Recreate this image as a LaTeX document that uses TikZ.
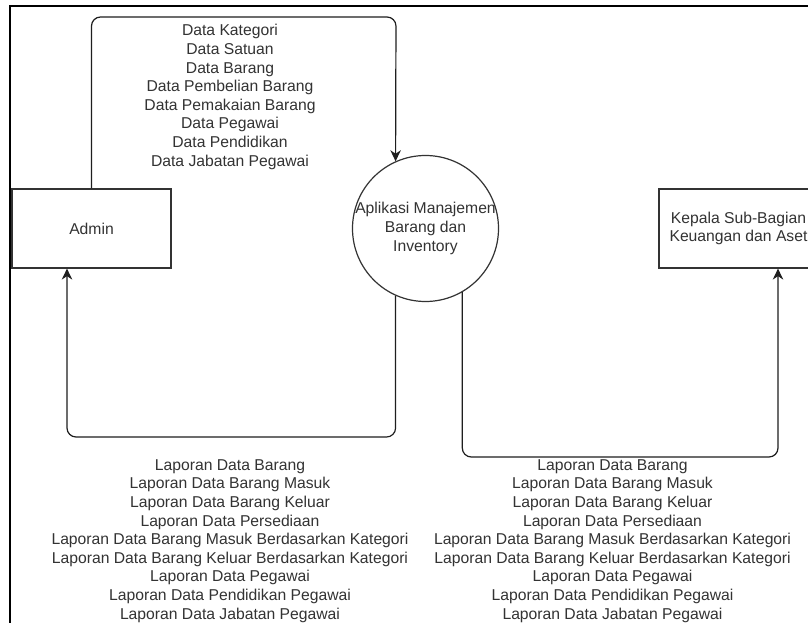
\documentclass[tikz,border=0pt]{standalone}
\usepackage{fontspec}
\setmainfont{Liberation Sans}
\usetikzlibrary{arrows.meta,calc}
\definecolor{ink}{HTML}{333333}
\definecolor{wire}{HTML}{1E1E1E}
\begin{document}
\begin{tikzpicture}[x=1pt,y=-1pt,
  every node/.style={font=\fontsize{15.7}{18.6}\selectfont, text=ink},
  entity/.style={draw=ink, line width=1.2pt, rectangle, minimum width=159pt, minimum height=79pt, inner sep=0pt, align=center},
  proc/.style={draw=ink, line width=1.2pt, circle, minimum size=146pt, inner sep=0pt},
  txt/.style={align=center, inner sep=0pt},
  flow/.style={draw=wire, line width=1.2pt, rounded corners=9pt, -{Stealth[length=11pt,width=10.5pt,inset=3.5pt]}},
  frame/.style={draw=black, line width=2.6pt}]
\useasboundingbox (0,0) rectangle (808,623);
\clip (0,0) rectangle (808,623);
\fill[white] (0,0) rectangle (808,623);

% frame of the canvas
\coordinate (fTL) at (10,6);
\coordinate (fTR) at (812,6);
\coordinate (fBL) at (10,630);
\draw[frame] (fTR) -- (fTL) -- (fBL);

% nodes
\node[entity] (admin) at (91.5,228.5) {Admin};
\node[proc] (app) at (425.5,228.5) {};
\node[txt] (apptext) at (app.center) {Aplikasi Manajemen\\Barang dan\\Inventory};
\node[entity] (kepala) at (738.5,228.5) {Kepala Sub-Bagian\\Keuangan dan Aset};

% labels
\node[txt] (lblin) at (230,97) {Data Kategori\\Data Satuan\\Data Barang\\Data Pembelian Barang\\Data Pemakaian Barang\\Data Pegawai\\Data Pendidikan\\Data Jabatan Pegawai};
\node[txt] (lblout1) at (230,541) {Laporan Data Barang\\Laporan Data Barang Masuk\\Laporan Data Barang Keluar\\Laporan Data Persediaan\\Laporan Data Barang Masuk Berdasarkan Kategori\\Laporan Data Barang Keluar Berdasarkan Kategori\\Laporan Data Pegawai\\Laporan Data Pendidikan Pegawai\\Laporan Data Jabatan Pegawai};
\node[txt] (lblout2) at (612.5,541) {Laporan Data Barang\\Laporan Data Barang Masuk\\Laporan Data Barang Keluar\\Laporan Data Persediaan\\Laporan Data Barang Masuk Berdasarkan Kategori\\Laporan Data Barang Keluar Berdasarkan Kategori\\Laporan Data Pegawai\\Laporan Data Pendidikan Pegawai\\Laporan Data Jabatan Pegawai};

% connectors
\coordinate (t1) at (396,17);
\draw[flow] (admin.north) |- (t1) -- (app.114);

\coordinate (b2) at (67,437);
\draw[flow] (app.246) |- (b2) -- (b2 |- admin.south);

\coordinate (b3) at (778,457);
\draw[flow] (app.300) |- (b3) -- (b3 |- kepala.south);
\end{tikzpicture}
\end{document}
